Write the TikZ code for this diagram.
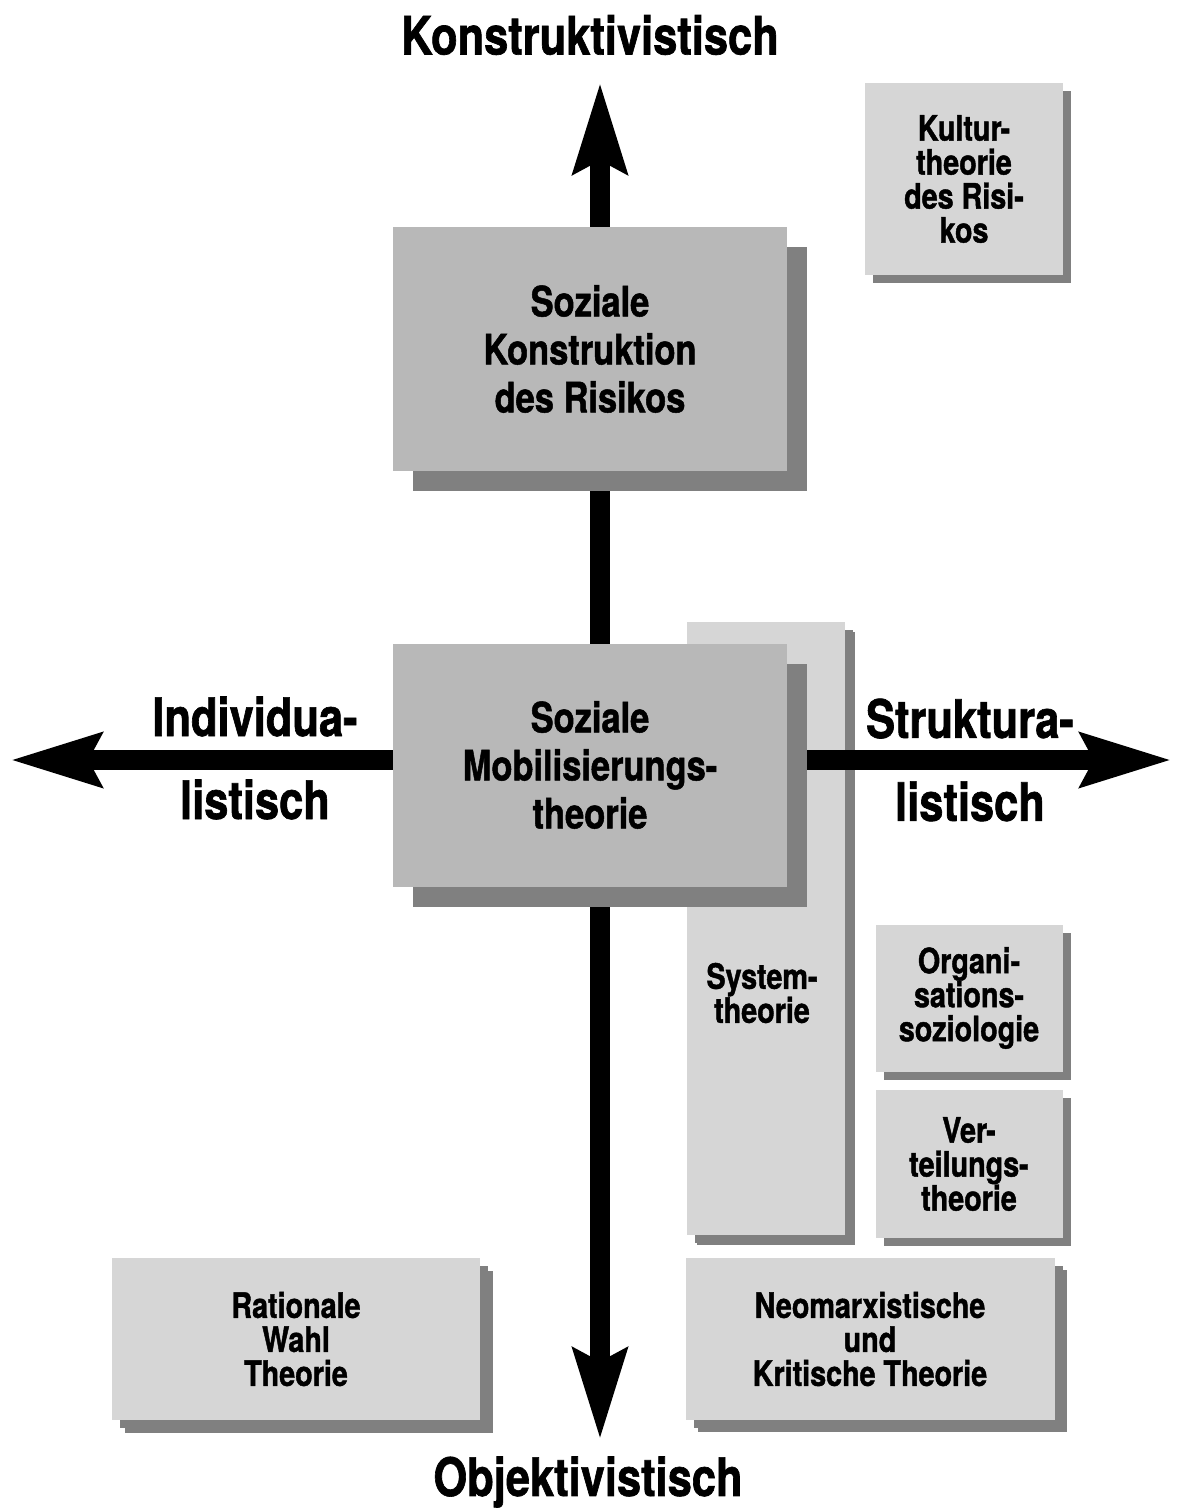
\documentclass[tikz,border=0pt]{standalone}
\usepackage{fontspec}
\setmainfont{TeX Gyre Heros}[FakeStretch=0.82, BoldFeatures={FakeBold=1.2}]
\usetikzlibrary{arrows.meta,shadows}
\definecolor{boxgray}{gray}{0.72}
\definecolor{lightbox}{gray}{0.84}
\definecolor{shadowgray}{gray}{0.5}

\begin{document}
\begin{tikzpicture}[
    x=1pt, y=-1pt,
    every node/.style={align=center, inner sep=0pt},
    bigbox/.style={rectangle, fill=boxgray, minimum width=394pt, minimum height=243pt, font=\bfseries\fontsize{42}{48}\selectfont, drop shadow={shadow xshift=20pt, shadow yshift=-20pt, fill=shadowgray, opacity=1}},
    smallbox/.style={rectangle, fill=lightbox, font=\bfseries\fontsize{35}{34}\selectfont, drop shadow={shadow xshift=8pt, shadow yshift=-8pt, fill=shadowgray, opacity=1}},
    axislabel/.style={font=\bfseries\fontsize{53}{83}\selectfont},
    axis/.style={line width=20pt, {Stealth[length=90pt, width=52pt, inset=12pt]}-{Stealth[length=90pt, width=52pt, inset=12pt]}}
]
    \useasboundingbox (0,0) rectangle (1176,1511);

    % Long box behind the axes
    \node[smallbox, minimum width=158pt, minimum height=613pt, drop shadow={shadow xshift=10pt, shadow yshift=-10pt, fill=shadowgray, opacity=1}] (system) at (766,928) {};
    \node[font=\bfseries\fontsize{35}{34}\selectfont] (systemtext) at (762,993) {System-\\theorie};

    % Axis ends
    \coordinate (north) at (600,82);
    \coordinate (south) at (600,1440);
    \coordinate (west) at (10,760);
    \coordinate (east) at (1172,760);

    % Axes
    \draw[axis] (south) -- (north);
    \draw[axis] (west) -- (east);

    % Central boxes
    \node[bigbox] (konstruktion) at (590,349) {Soziale\\Konstruktion\\des Risikos};
    \node[bigbox] (mobilisierung) at (590,765) {Soziale\\Mobilisierungs-\\theorie};

    % Theory boxes
    \node[smallbox, minimum width=198pt, minimum height=192pt] (kultur) at (964,179) {Kultur-\\theorie\\des Risi-\\kos};
    \node[smallbox, minimum width=187pt, minimum height=147pt] (organisation) at (969,998) {Organi-\\sations-\\soziologie};
    \node[smallbox, minimum width=187pt, minimum height=148pt] (verteilung) at (969,1164) {Ver-\\teilungs-\\theorie};
    \node[smallbox, minimum width=368pt, minimum height=162pt, drop shadow={shadow xshift=13pt, shadow yshift=-13pt, fill=shadowgray, opacity=1}] (rational) at (296,1339) {Rationale\\Wahl\\Theorie};
    \node[smallbox, minimum width=369pt, minimum height=162pt, drop shadow={shadow xshift=12pt, shadow yshift=-12pt, fill=shadowgray, opacity=1}] (neomarx) at (870,1339) {Neomarxistische\\und\\Kritische Theorie};

    % Axis labels
    \node[axislabel] (konstruktivistisch) at (590,35) {Konstruktivistisch};
    \node[axislabel] (objektivistisch) at (588,1482) {Objektivistisch};
    \node[axislabel] (individualistisch) at (255,758) {Individua-\\listisch};
    \node[axislabel] (strukturalistisch) at (970,760) {Struktura-\\listisch};
\end{tikzpicture}
\end{document}
